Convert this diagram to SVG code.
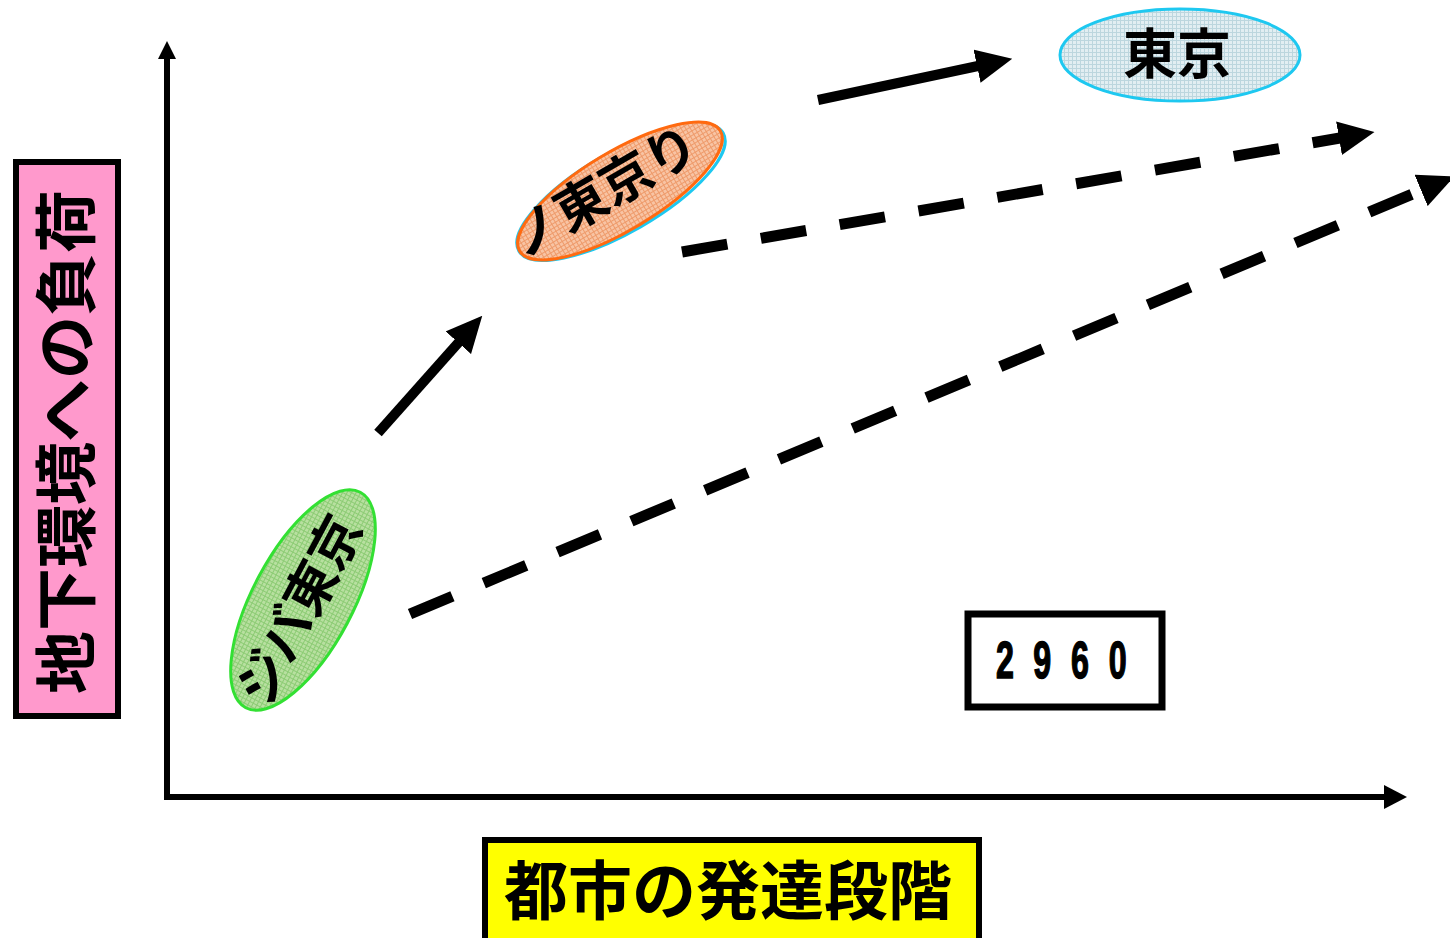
<svg xmlns="http://www.w3.org/2000/svg" width="1450" height="938" viewBox="0 0 1450 938">
<style>
.jp{font-family:"Noto Sans CJK JP","Noto Sans CJK SC",sans-serif;font-weight:bold;fill:#000}
.axis{stroke:#000;stroke-width:6;fill:none}
.solid{stroke:#000;stroke-width:10;fill:none}
.dash{stroke:#000;stroke-width:11;fill:none;stroke-dasharray:46 34}
.box{stroke:#000;stroke-width:6}
</style>
<defs>
<pattern id="pBlue" width="4" height="4" patternUnits="userSpaceOnUse">
<rect width="4" height="4" fill="#E2EEF2"/>
<path d="M0,0.5H4M0.5,0V4" stroke="#BCD6DE" stroke-width="1"/>
</pattern>
<pattern id="pOrange" width="4" height="4" patternUnits="userSpaceOnUse">
<rect width="4" height="4" fill="#F8C4A4"/>
<path d="M0,0.5H4M0.5,0V4" stroke="#EE9A6A" stroke-width="1"/>
</pattern>
<pattern id="pGreen" width="4" height="4" patternUnits="userSpaceOnUse">
<rect width="4" height="4" fill="#B8E0A0"/>
<path d="M0,0.5H4M0.5,0V4" stroke="#8CCB74" stroke-width="1"/>
</pattern>
<marker id="head" viewBox="0 -17 36 34" refX="1" refY="0" markerWidth="36" markerHeight="34" markerUnits="userSpaceOnUse" orient="auto">
<path d="M0,-17L36,0L0,17z" fill="#000"/>
</marker>
<marker id="axhead" viewBox="0 -12 23 24" refX="1" refY="0" markerWidth="23" markerHeight="24" markerUnits="userSpaceOnUse" orient="auto">
<path d="M0,-12L23,0L0,12z" fill="#000"/>
</marker>
<marker id="axheadY" viewBox="0 -9 18 18" refX="1" refY="0" markerWidth="18" markerHeight="18" markerUnits="userSpaceOnUse" orient="auto">
<path d="M0,-9L18,0L0,9z" fill="#000"/>
</marker>
</defs>
<rect width="1450" height="938" fill="#fff"/>

<g id="connectors">
<line class="axis" x1="167" y1="800" x2="167" y2="58" marker-end="url(#axheadY)"/>
<line class="axis" x1="164" y1="797" x2="1385" y2="797" marker-end="url(#axhead)"/>
<line class="solid" x1="378" y1="433" x2="459" y2="342" marker-end="url(#head)"/>
<line class="solid" x1="818" y1="100" x2="978" y2="66" marker-end="url(#head)"/>
<line class="dash" x1="682" y1="252" x2="1340" y2="138" marker-end="url(#head)"/>
<line class="dash" x1="410" y1="614" x2="1422" y2="190" marker-end="url(#head)"/>
</g>

<g id="yLabel">
<rect class="box" x="16" y="162" width="102" height="554" fill="#FF99CC"/>
<text class="jp" transform="translate(67,442) rotate(-90)" x="0" y="22" font-size="63" text-anchor="middle">地下環境への負荷</text>
</g>

<g id="xLabel">
<rect class="box" x="485" y="840" width="494" height="110" fill="#FFFF00"/>
<text class="jp" x="728" y="914" font-size="64" text-anchor="middle">都市の発達段階</text>
</g>

<g id="tokyo">
<ellipse cx="1180" cy="55" rx="120" ry="46" fill="url(#pBlue)" stroke="#1EC8F0" stroke-width="3"/>
<text class="jp" x="1177" y="74" font-size="54" text-anchor="middle">東京</text>
</g>

<g id="city2">
<ellipse cx="621" cy="192" rx="118" ry="40" transform="rotate(-30 621 192)" fill="none" stroke="#1EC8F0" stroke-width="3"/>
<ellipse cx="620" cy="191" rx="117" ry="39" transform="rotate(-31 620 191)" fill="url(#pOrange)" stroke="#FF6A10" stroke-width="3"/>
<text class="jp" transform="translate(604,192) rotate(-30)" x="0" y="18" font-size="52" text-anchor="middle">ノ東京り</text>
</g>

<g id="city1">
<ellipse cx="303" cy="600" rx="122" ry="50" transform="rotate(-62 303 600)" fill="url(#pGreen)" stroke="#33E033" stroke-width="3"/>
<text class="jp" transform="translate(300,610) rotate(-62)" x="0" y="18" font-size="52" text-anchor="middle">ジバ東京</text>
</g>

<g id="year">
<rect x="968" y="614" width="194" height="93" fill="#fff" stroke="#000" stroke-width="7"/>
<text transform="translate(1062,678) scale(0.62,1)" x="-92 -32 29 90" y="0" font-family="Liberation Sans, Arial, sans-serif" font-weight="bold" font-size="52" text-anchor="middle" stroke="#000" stroke-width="1.5">2960</text>
</g>
</svg>
